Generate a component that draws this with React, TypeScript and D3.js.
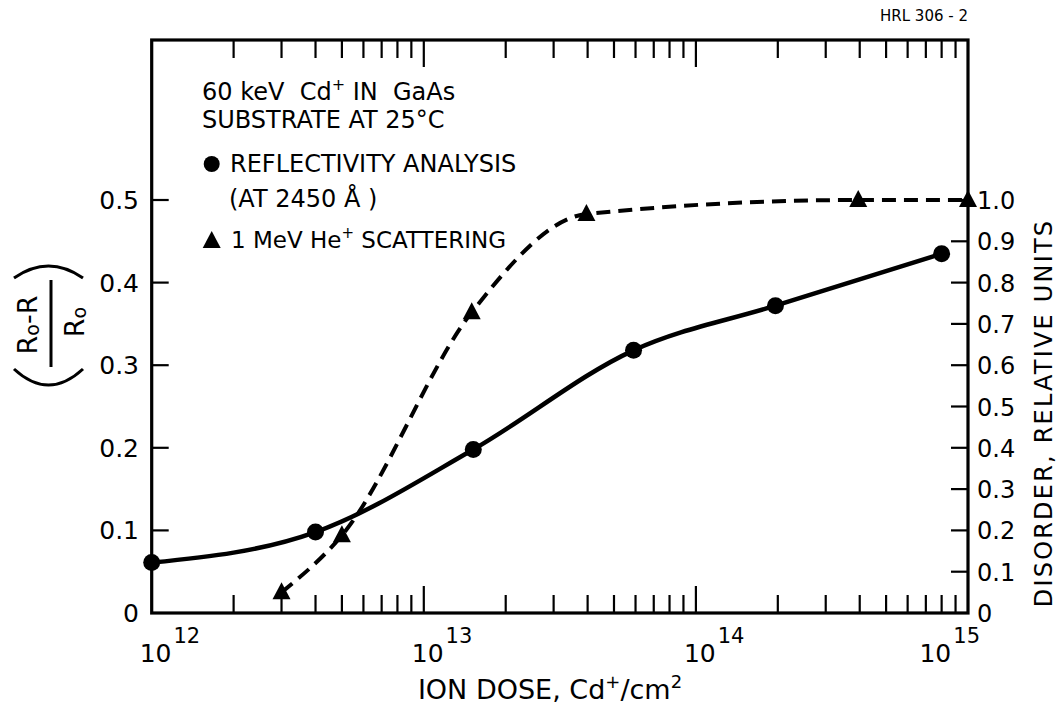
import React from "react";
import * as d3 from "d3";

// Reflectivity analysis (left axis, (R0-R)/R0)
const reflectivityDose = [1e12, 4.0e12, 1.52e13, 5.9e13, 1.96e14, 8.0e14];
const reflectivityValue = [0.061, 0.098, 0.198, 0.318, 0.372, 0.435];
// 1 MeV He+ scattering (right axis, disorder relative units)
const scatteringDose = [3.0e12, 5.0e12, 1.5e13, 3.96e13, 3.95e14, 1.0e15];
const scatteringValue = [0.05, 0.188, 0.728, 0.966, 1.0, 1.0];

const decades = [1e12, 1e13, 1e14, 1e15];
const decadeExponents = ["12", "13", "14", "15"];
const leftTickValues = [0, 0.1, 0.2, 0.3, 0.4, 0.5];
const leftTickLabels = ["0", "0.1", "0.2", "0.3", "0.4", "0.5"];
const rightTickValues = [0, 0.1, 0.2, 0.3, 0.4, 0.5, 0.6, 0.7, 0.8, 0.9, 1.0];
const rightTickLabels = ["0", "0.1", "0.2", "0.3", "0.4", "0.5", "0.6", "0.7", "0.8", "0.9", "1.0"];

const W = 1058;
const H = 705;
const X0 = 151.7;
const X1 = 968;
const YTOP = 40;
const YBOT = 613;
const FONT = "'DejaVu Sans', sans-serif";
const NB = "\u00A0";

function tri(cx: number, cy: number, s = 1) {
  return `M${cx},${cy - 10 * s} L${cx + 9 * s},${cy + 7 * s} L${cx - 9 * s},${cy + 7 * s} Z`;
}

export default function App() {
  const x = d3.scaleLog().domain([1e12, 1e15]).range([X0, X1]);
  const yL = d3.scaleLinear().domain([0, 0.5]).range([YBOT, 200]);
  const yR = d3.scaleLinear().domain([0, 1]).range([YBOT, 200]);

  const minor = x.ticks().filter((t) => Math.abs(Math.log10(t) - Math.round(Math.log10(t))) > 1e-6);
  const innerMajor = decades.slice(1, -1);

  const refl = reflectivityDose.map((d, i) => [d, reflectivityValue[i]] as [number, number]);
  const scat = scatteringDose.map((d, i) => [d, scatteringValue[i]] as [number, number]);

  const solid = d3
    .line<[number, number]>()
    .x((d) => x(d[0]))
    .y((d) => yL(d[1]))
    .curve(d3.curveMonotoneX)(refl) as string;
  const dashed = d3
    .line<[number, number]>()
    .x((d) => x(d[0]))
    .y((d) => yR(d[1]))
    .curve(d3.curveMonotoneX)(scat) as string;

  const minorLen = 18;
  const majorLen = 27;
  const yTickLen = 17;

  return (
    <svg
      width={W}
      height={H}
      style={{ position: "absolute", left: 0, top: 0, background: "#fff", display: "block" }}
      fontFamily={FONT}
    >
      <rect x={0} y={0} width={W} height={H} fill="#fff" />
      <text x={968} y={21} textAnchor="end" fontSize={15}>
        HRL 306 - 2
      </text>

      {/* frame */}
      <rect x={X0} y={YTOP} width={X1 - X0} height={YBOT - YTOP} fill="none" stroke="#000" strokeWidth={3.2} />

      {/* x ticks bottom and top */}
      {minor.map((t, i) => (
        <g key={"m" + i} stroke="#000" strokeWidth={2.2}>
          <line x1={x(t)} x2={x(t)} y1={YBOT} y2={YBOT - minorLen} />
          <line x1={x(t)} x2={x(t)} y1={YTOP} y2={YTOP + minorLen} />
        </g>
      ))}
      {innerMajor.map((t, i) => (
        <g key={"M" + i} stroke="#000" strokeWidth={2.2}>
          <line x1={x(t)} x2={x(t)} y1={YBOT} y2={YBOT - majorLen} />
          <line x1={x(t)} x2={x(t)} y1={YTOP} y2={YTOP + majorLen} />
        </g>
      ))}

      {/* x tick labels */}
      {decades.map((t, i) => {
        const last = i === decades.length - 1;
        return (
          <text
            key={"xl" + i}
            x={last ? x(t) + 12 : x(t) - 12}
            y={662}
            fontSize={25}
            textAnchor={last ? "end" : "start"}
          >
            10
            <tspan dx={2} dy={-19} fontSize={21}>
              {decadeExponents[i]}
            </tspan>
          </text>
        );
      })}

      {/* x title */}
      <text x={550} y={699} fontSize={27} textAnchor="middle">
        ION DOSE, Cd
        <tspan dy={-11} fontSize={18}>+</tspan>
        <tspan dy={11}>/cm</tspan>
        <tspan dy={-11} fontSize={18}>2</tspan>
      </text>

      {/* left axis ticks + labels */}
      {leftTickValues.map((v, i) => (
        <g key={"lt" + i}>
          {v > 0 && (
            <line x1={X0} x2={X0 + yTickLen} y1={yL(v)} y2={yL(v)} stroke="#000" strokeWidth={2.2} />
          )}
          <text x={139} y={yL(v) + 9} fontSize={25} textAnchor="end">
            {leftTickLabels[i]}
          </text>
        </g>
      ))}

      {/* right axis ticks + labels */}
      {rightTickValues.map((v, i) => (
        <g key={"rt" + i}>
          {v > 0 && (
            <line x1={X1} x2={X1 - yTickLen} y1={yR(v)} y2={yR(v)} stroke="#000" strokeWidth={2.2} />
          )}
          <text x={977} y={yR(v) + 9} fontSize={24}>
            {rightTickLabels[i]}
          </text>
        </g>
      ))}

      {/* right axis title */}
      <text
        transform="translate(1052,413) rotate(-90)"
        textAnchor="middle"
        fontSize={24}
        letterSpacing={2.2}
      >
        DISORDER, RELATIVE UNITS
      </text>

      {/* left axis title: ((R0-R)/R0) */}
      <g transform="translate(52,325) rotate(-90)" fontSize={27}>
        <path d="M-44,-38 Q-76,-3.5 -44,31" fill="none" stroke="#000" strokeWidth={3} />
        <path d="M47,-38 Q71,-3.5 47,31" fill="none" stroke="#000" strokeWidth={3} />
        <text x={0} y={-15} textAnchor="middle">
          R<tspan fontSize={19} dy={2}>o</tspan>
          <tspan dy={-2}>-R</tspan>
        </text>
        <line x1={-42} x2={45} y1={-1} y2={-1} stroke="#000" strokeWidth={3} />
        <text x={3} y={32} textAnchor="middle">
          R<tspan fontSize={19} dy={2}>o</tspan>
        </text>
      </g>

      {/* legend */}
      <g fontSize={24}>
        <text x={202} y={100}>
          {`60 keV${NB}${NB}Cd`}
          <tspan dy={-10} fontSize={16}>+</tspan>
          <tspan dy={10}>{`${NB}IN${NB}${NB}GaAs`}</tspan>
        </text>
        <text x={202} y={128}>SUBSTRATE AT 25°C</text>
        <circle cx={211.7} cy={164} r={8} fill="#000" />
        <text x={230} y={172}>REFLECTIVITY ANALYSIS</text>
        <text x={229} y={207}>(AT 2450 Å )</text>
        <path d={tri(211.7, 241)} fill="#000" />
        <text x={231} y={248} fontSize={23}>
          {`1 MeV He`}
          <tspan dy={-10} fontSize={15}>+</tspan>
          <tspan dy={10}>{`${NB}SCATTERING`}</tspan>
        </text>
      </g>

      {/* curves */}
      <path d={solid} fill="none" stroke="#000" strokeWidth={4.5} strokeLinecap="round" />
      <path d={dashed} fill="none" stroke="#000" strokeWidth={4} strokeDasharray="14 8" />

      {/* markers */}
      {refl.map((d, i) => (
        <circle key={"c" + i} cx={x(d[0])} cy={yL(d[1])} r={8.5} fill="#000" />
      ))}
      {scat.map((d, i) => (
        <path key={"t" + i} d={tri(x(d[0]), yR(d[1]))} fill="#000" />
      ))}
    </svg>
  );
}
